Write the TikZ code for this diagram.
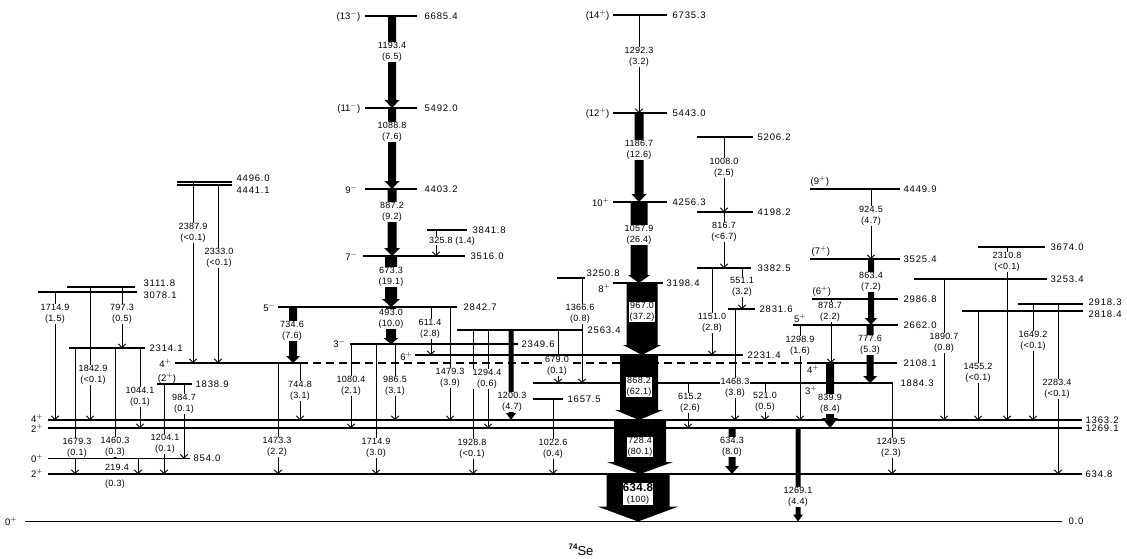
\documentclass[tikz,border=0pt]{standalone}
\usepackage{fontspec}
\setmainfont{Liberation Sans}
\newfontfamily\lvf[LetterSpace=8]{Liberation Sans}
\newfontfamily\tlf[LetterSpace=3]{Liberation Sans}
\usetikzlibrary{arrows.meta}
\tikzset{
 lvl/.style={line width=1.1pt},
 tr/.style={line width=0.9pt,-{Straight Barb[length=3.5pt,width=7.5pt]}},
 llab/.style={font=\lvf\fontsize{9.5}{10}\selectfont,inner sep=0.5pt,anchor=west},
 tlab/.style={font=\tlf\fontsize{9}{10.5}\selectfont,fill=white,inner sep=0.3pt,align=center},
 spin/.style={font=\fontsize{9.5}{10}\selectfont,inner sep=0.5pt},
}
% level: name, y, x1, x2, text, label x, label y
\newcommand\lev[7]{%
 \expandafter\def\csname y#1\endcsname{#2}%
 \coordinate (L#1) at (0,#2);
 \draw[lvl] (#3,#2) -- (#4,#2);
 \node[llab] (n#1) at (#6,#7) {#5};}
\newcommand\gam[3]{\draw[tr] (#1,0 |- L#2) -- (#1,0 |- L#3);}
% thick arrow: x, from, to, body width, head width, head length
\newcommand\thk[6]{%
 \edef\ya{\csname y#2\endcsname}\edef\yb{\csname y#3\endcsname}%
 \pgfmathsetmacro\ta{#1-#4/2}\pgfmathsetmacro\tb{#1+#4/2}%
 \pgfmathsetmacro\hc{#1-#5/2}\pgfmathsetmacro\hd{#1+#5/2}%
 \pgfmathsetmacro\he{\yb-#6}%
 \fill (\ta,\ya) -- (\tb,\ya) -- (\tb,\he) -- (\hd,\he) -- (#1,\yb) -- (\hc,\he) -- (\ta,\he) -- cycle;}
\newcommand\tl[5]{\node[tlab] (#1) at (#2,#3) {#4\\#5};}
\begin{document}
\begin{tikzpicture}[x=1pt,y=-1pt]
\useasboundingbox (0,0) rectangle (1127,559);
% ---------- levels
\lev{66854}{16}{365}{417}{6685.4}{424}{16}
\lev{54920}{108}{365}{417}{5492.0}{424}{108}
\lev{44032}{189}{365}{417}{4403.2}{424}{189}
\lev{38418}{230}{427}{467}{3841.8}{472}{230}
\lev{35160}{256}{363}{465}{3516.0}{470}{256}
\lev{28427}{307}{278}{457}{2842.7}{463}{307}
\lev{25634}{330}{457}{583}{2563.4}{587}{330}
\lev{23496}{344}{350}{518}{2349.6}{521}{344}
\lev{22314}{355}{415}{743}{2231.4}{747}{355}
\lev{18843}{383}{533}{893}{1884.3}{900}{383}
\lev{16575}{399}{533}{563}{1657.5}{567}{399}
\lev{13632}{420}{48}{1082}{1363.2}{1085}{420}
\lev{12691}{428}{48}{1082}{1269.1}{1085}{428}
\lev{8540}{458.5}{48}{190}{854.0}{193}{458.5}
\lev{6348}{474}{48}{1082}{634.8}{1085}{474}
\lev{0}{521.5}{25}{1062}{0.0}{1068}{521.5}
\lev{23141}{348}{69}{145}{2314.1}{149}{348}
\lev{18389}{384}{157}{192}{1838.9}{195}{384}
\lev{31118}{287}{67}{135}{3111.8}{143}{283}
\lev{30781}{292}{38}{137}{3078.1}{143}{295}
\lev{44960}{182}{177}{232}{4496.0}{236}{178}
\lev{44411}{185}{177}{232}{4441.1}{236}{190}
\lev{67353}{15}{613}{667}{6735.3}{672}{15}
\lev{54430}{113}{613}{667}{5443.0}{672}{113}
\lev{42563}{202}{613}{667}{4256.3}{672}{202}
\lev{31984}{283}{613}{663}{3198.4}{666}{283}
\lev{32508}{278}{557}{585}{3250.8}{586}{273}
\lev{52062}{137}{697}{753}{5206.2}{757}{137}
\lev{41982}{212}{697}{753}{4198.2}{757}{212}
\lev{33825}{268}{697}{751}{3382.5}{757}{268}
\lev{28316}{309}{728}{755}{2831.6}{759}{309}
\lev{44499}{189}{810}{900}{4449.9}{903}{189}
\lev{35254}{259}{810}{900}{3525.4}{903}{259}
\lev{29868}{299}{812}{898}{2986.8}{903}{299}
\lev{26620}{325}{793}{898}{2662.0}{903}{325}
\lev{36740}{247}{978}{1045}{3674.0}{1050}{247}
\lev{32534}{279}{914}{1047}{3253.4}{1050}{279}
\lev{29183}{304}{1018}{1083}{2918.3}{1088}{302}
\lev{28184}{311}{962}{1083}{2818.4}{1088}{314}
% 2108.1 (partly dashed)
\expandafter\def\csname y21081\endcsname{363}
\coordinate (L21081) at (0,363);
\draw[lvl] (175,363) -- (300,363);
\draw[lvl,dash pattern=on 8pt off 5pt] (300,363) -- (815,363);
\draw[lvl] (815,363) -- (897,363);
\node[llab] (n21081) at (903,363) {2108.1};
% ---------- spins
\node[spin,anchor=east] (s1) at (361,16) {(13$^-$)};
\node[spin,anchor=east] (s2) at (361,108) {(11$^-$)};
\node[spin,anchor=east] (s3) at (358,189) {9$^-$};
\node[spin,anchor=east] (s4) at (358,256) {7$^-$};
\node[spin,anchor=east] (s5) at (276,307) {5$^-$};
\node[spin,anchor=east] (s6) at (346,343) {3$^-$};
\node[spin,anchor=east] (s7) at (413,356) {6$^+$};
\node[spin,anchor=east] (s8) at (172,363) {4$^+$};
\node[spin,anchor=east] (s9) at (610,15) {(14$^+$)};
\node[spin,anchor=east] (s10) at (610,113) {(12$^+$)};
\node[spin,anchor=east] (s11) at (610,202) {10$^+$};
\node[spin,anchor=east] (s12) at (611,288) {8$^+$};
\node[spin,anchor=south west] (s13) at (810,187) {(9$^+$)};
\node[spin,anchor=south west] (s14) at (811,257) {(7$^+$)};
\node[spin,anchor=south west] (s15) at (812,297) {(6$^+$)};
\node[spin,anchor=south] (s16) at (800,323) {5$^+$};
\node[spin] (s17) at (813,369) {4$^+$};
\node[spin] (s18) at (811,390) {3$^+$};
\node[spin] (s19) at (37,418) {4$^+$};
\node[spin] (s20) at (37,428) {2$^+$};
\node[spin] (s21) at (37,458) {0$^+$};
\node[spin] (s22) at (37,473) {2$^+$};
\node[spin] (s23) at (11,521) {0$^+$};
\node[spin] (s24) at (167,378) {(2$^+$)};
% ---------- thin transitions
\gam{639}{67353}{54430}
\gam{724}{52062}{41982}
\gam{724}{41982}{33825}
\gam{742}{33825}{28316}
\gam{712}{33825}{22314}
\gam{735}{28316}{13632}
\gam{688}{18843}{12691}
\gam{765}{18843}{13632}
\gam{871}{44499}{35254}
\gam{831}{29868}{21081}
\gam{800}{26620}{13632}
\gam{892}{18843}{6348}
\gam{1007}{36740}{13632}
\gam{944}{32534}{13632}
\gam{978}{28184}{13632}
\gam{1033}{29183}{13632}
\gam{1058}{29183}{6348}
\gam{55}{30781}{13632}
\gam{90}{31118}{13632}
\gam{122}{31118}{23141}
\gam{75}{23141}{6348}
\gam{115}{23141}{8540}
\gam{140}{23141}{12691}
\gam{164}{18389}{6348}
\gam{184}{18389}{8540}
\gam{138}{8540}{6348}
\gam{193}{44960}{21081}
\gam{218}{44411}{21081}
\gam{436}{38418}{35160}
\gam{431}{28427}{22314}
\gam{450}{28427}{13632}
\gam{300}{21081}{13632}
\gam{278}{21081}{6348}
\gam{351}{23496}{12691}
\gam{376}{23496}{6348}
\gam{395}{23496}{13632}
\gam{488}{25634}{12691}
\gam{473}{25634}{6348}
\gam{558}{25634}{18843}
\gam{582}{32508}{18843}
\gam{553}{16575}{6348}
% ---------- thick transitions
\thk{392}{66854}{54920}{8}{15}{8}
\thk{392}{54920}{44032}{8}{15}{8}
\thk{392}{44032}{35160}{9}{16}{8}
\thk{391}{35160}{28427}{12}{18}{8}
\thk{391}{28427}{23496}{10}{15}{6}
\thk{293}{28427}{21081}{8}{14}{7}
\thk{511}{25634}{13632}{5}{10}{7}
\thk{639}{54430}{42563}{9}{15}{8}
\thk{639}{42563}{31984}{17}{22}{8}
\thk{871}{35254}{26620}{6}{12}{7}
\thk{870}{26620}{18843}{7}{14}{7}
\thk{830}{21081}{12691}{8}{16}{10}
\thk{798}{12691}{0}{5}{10}{7}
\thk{732}{12691}{6348}{7}{14}{8}
\thk{642}{31984}{22314}{31}{38}{10}
\thk{639}{22314}{13632}{38}{48}{10}
\thk{640}{13632}{6348}{52}{66}{12}
\thk{638}{6348}{0}{63}{81}{15}
% ---------- transition labels
\tl{t1}{639}{57}{1292.3}{(3.2)}
\tl{t2}{724}{168}{1008.0}{(2.5)}
\tl{t3}{724}{232}{816.7}{(<6.7)}
\tl{t4}{742}{287}{551.1}{(3.2)}
\tl{t5}{712}{323}{1151.0}{(2.8)}
\tl{t6}{735}{388}{1468.3}{(3.8)}
\tl{t7}{690}{403}{615.2}{(2.6)}
\tl{t8}{765}{402}{521.0}{(0.5)}
\tl{t9}{871}{216}{924.5}{(4.7)}
\tl{t10}{830}{312}{878.7}{(2.2)}
\tl{t11}{800}{346}{1298.9}{(1.6)}
\tl{t12}{891}{448}{1249.5}{(2.3)}
\tl{t13}{1007}{262}{2310.8}{(<0.1)}
\tl{t14}{944}{343}{1890.7}{(0.8)}
\tl{t15}{978}{373}{1455.2}{(<0.1)}
\tl{t16}{1033}{341}{1649.2}{(<0.1)}
\tl{t17}{1057}{389}{2283.4}{(<0.1)}
\tl{t18}{55}{314}{1714.9}{(1.5)}
\tl{t19}{93}{375}{1842.9}{(<0.1)}
\tl{t20}{122}{314}{797.3}{(0.5)}
\tl{t21}{77}{448}{1679.3}{(0.1)}
\tl{t22}{115}{447}{1460.3}{(0.3)}
\tl{t23}{140}{397}{1044.1}{(0.1)}
\tl{t24}{165}{444}{1204.1}{(0.1)}
\tl{t25}{184}{404}{984.7}{(0.1)}
\node[font=\tlf\fontsize{9}{10}\selectfont,inner sep=0.3pt] (t26a) at (117,467) {219.4};
\node[font=\tlf\fontsize{9}{10}\selectfont,inner sep=0.3pt] (t26b) at (115,484) {(0.3)};
\tl{t27}{193}{233}{2387.9}{(<0.1)}
\tl{t28}{219}{258}{2333.0}{(<0.1)}
\node[tlab] (t29) at (452,241) {325.8 (1.4)};
\tl{t30}{430}{329}{611.4}{(2.8)}
\tl{t31}{450}{378}{1479.3}{(3.9)}
\tl{t32}{300}{391}{744.8}{(3.1)}
\tl{t33}{277}{447}{1473.3}{(2.2)}
\tl{t34}{351}{386}{1080.4}{(2.1)}
\tl{t35}{376}{448}{1714.9}{(3.0)}
\tl{t36}{395}{386}{986.5}{(3.1)}
\tl{t37}{487}{379}{1294.4}{(0.6)}
\tl{t38}{472}{449}{1928.8}{(<0.1)}
\tl{t39}{557}{366}{679.0}{(0.1)}
\tl{t40}{580}{314}{1366.6}{(0.8)}
\tl{t41}{553}{449}{1022.6}{(0.4)}
\tl{t42}{392}{52}{1193.4}{(6.5)}
\tl{t43}{392}{132}{1088.8}{(7.6)}
\tl{t44}{392}{212}{887.2}{(9.2)}
\tl{t45}{391}{277}{673.3}{(19.1)}
\tl{t46}{391}{319}{493.0}{(10.0)}
\tl{t47}{292}{331}{734.6}{(7.6)}
\tl{t48}{512}{402}{1200.3}{(4.7)}
\tl{t49}{639}{150}{1186.7}{(12.6)}
\tl{t50}{639}{235}{1057.9}{(26.4)}
\tl{t51}{871}{282}{863.4}{(7.2)}
\tl{t52}{870}{345}{777.6}{(5.3)}
\tl{t53}{830}{404}{839.9}{(8.4)}
\tl{t54}{798}{497}{1269.1}{(4.4)}
\tl{t55}{732}{447}{634.3}{(8.0)}
\tl{t56}{642}{312}{967.0}{(37.2)}
\tl{t57}{639}{387}{868.2}{(62.1)}
\tl{t58}{640}{447}{728.4}{(80.1)}
\node[tlab,font=\tlf\fontsize{9}{11}\selectfont] (t59) at (638,494) {{\fontsize{11.5}{12}\selectfont\bfseries 634.8}\\(100)};
% ---------- isotope
\node[font=\fontsize{13}{14}\selectfont,inner sep=0pt] (iso) at (581,550) {\raisebox{0.45em}{\fontsize{8}{8}\selectfont\bfseries 74}Se};
\end{tikzpicture}
\end{document}
